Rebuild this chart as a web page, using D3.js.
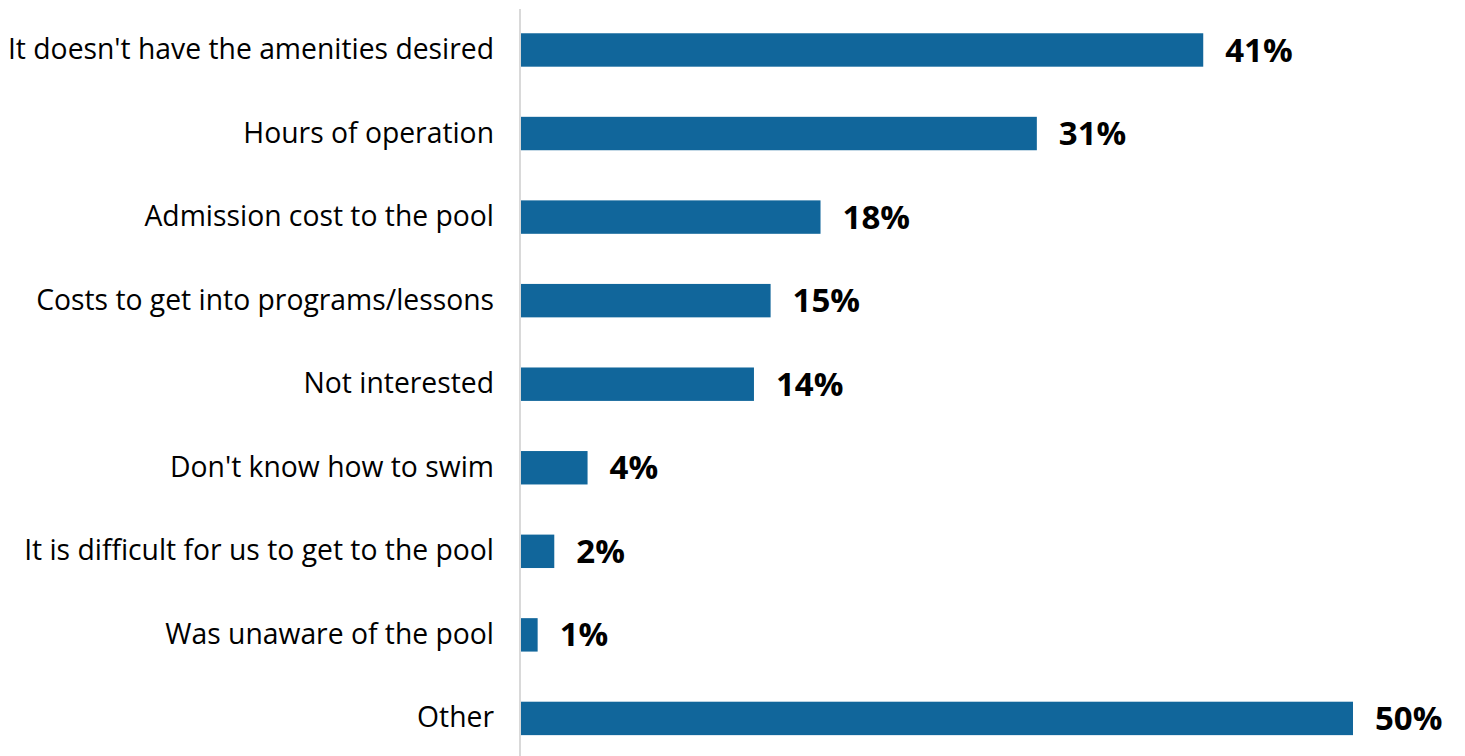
<!DOCTYPE html>
<html>
<head>
<meta charset="utf-8">
<script src="https://cdn.jsdelivr.net/npm/d3@7"></script>
<style>
  html, body { margin: 0; padding: 0; background: #ffffff; }
  svg { display: block; }
  .cat { font-family: "Open Sans", sans-serif; font-size: 28.3px; fill: #000; }
  .val { font-family: "Open Sans", sans-serif; font-size: 33px; font-weight: 700; fill: #000; }
</style>
</head>
<body>
<svg id="chart" width="1465" height="756"></svg>
<script>
// Reasons for not using the pool (% of respondents)
const categories = [
  "It doesn't have the amenities desired",
  "Hours of operation",
  "Admission cost to the pool",
  "Costs to get into programs/lessons",
  "Not interested",
  "Don't know how to swim",
  "It is difficult for us to get to the pool",
  "Was unaware of the pool",
  "Other"
];
const values = [41, 31, 18, 15, 14, 4, 2, 1, 50];
const valueLabels = ["41%", "31%", "18%", "15%", "14%", "4%", "2%", "1%", "50%"];

const svg = d3.select("#chart");
const x0 = 521;

const x = d3.scaleLinear().domain([0, 50]).range([x0, 1353]);
const y = d3.scaleBand()
  .domain(categories)
  .range([8.2, 760.2])
  .paddingInner(0.6)
  .paddingOuter(0.3);

const data = categories.map((c, i) => ({ cat: c, v: values[i], label: valueLabels[i] }));

// bars
svg.append("g").selectAll("rect")
  .data(data)
  .join("rect")
  .attr("x", x(0))
  .attr("y", d => y(d.cat))
  .attr("width", d => x(d.v) - x(0))
  .attr("height", y.bandwidth())
  .attr("fill", "#11669b");

// category axis
const axis = d3.axisLeft(y).tickSize(0).tickPadding(26);
const gAxis = svg.append("g").attr("transform", `translate(${x0 - 1},0)`).call(axis);
gAxis.select(".domain").remove();
gAxis.selectAll("text").attr("class", "cat").attr("font-family", null).attr("font-size", null).attr("fill", null);
svg.append("line")
  .attr("x1", x0 - 1).attr("x2", x0 - 1)
  .attr("y1", 9).attr("y2", 756)
  .attr("stroke", "#d9d9d9").attr("stroke-width", 2);

// value labels
svg.append("g").selectAll("text")
  .data(data)
  .join("text")
  .attr("class", "val")
  .attr("x", d => x(d.v) + 22)
  .attr("y", d => y(d.cat) + y.bandwidth() / 2)
  .attr("dy", "0.35em")
  .text(d => d.label);
</script>
</body>
</html>
